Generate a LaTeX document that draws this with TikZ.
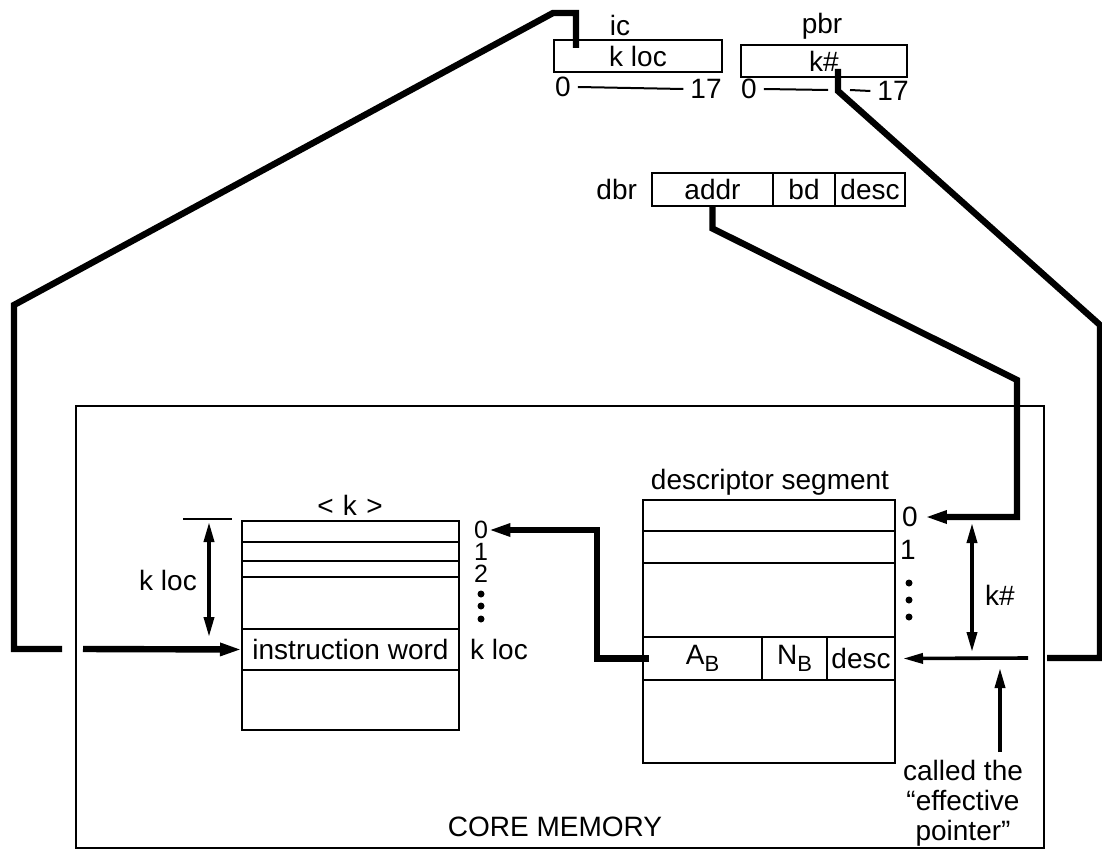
\documentclass[tikz,border=0pt]{standalone}
\usepackage{fontspec}
\setmainfont{Liberation Sans}
\usetikzlibrary{arrows.meta, positioning}
\newcommand\lowsub[1]{\raisebox{-0.5ex}{\fontsize{11}{11}\selectfont #1}}

\begin{document}
\begin{tikzpicture}[x=0.5pt,y=-0.5pt, font=\fontsize{14}{15}\selectfont,
  box/.style={draw, line width=1pt, inner sep=0pt, outer sep=0pt},
  rule/.style={line width=1pt},
  digit/.style={inner sep=0pt, font=\fontsize{12.5}{12.5}\selectfont},
  wire/.style={line width=3.2pt},
  ptr/.style={wire, -{Triangle[length=11pt,width=6pt]}},
  thinptr/.style={line width=1.8pt, -{Triangle[length=10pt,width=5pt]}},
  dim/.style={line width=1.8pt, {Triangle[length=10pt,width=5pt]}-{Triangle[length=10pt,width=5pt]}}]
\useasboundingbox (0,0) rectangle (1102,856);

\node[box, minimum width=84pt, minimum height=16pt] (icreg) at (638,56) {k loc};
\node (iclbl) at (620,25) {ic};
\node (ic0) at (563,87) {0};
\node (ic17) at (706,89) {17};
\draw[rule] (ic0.east) -- (ic17.west);

\node[box, minimum width=83pt, minimum height=16pt] (pbrreg) at (824,61) {k\#};
\node (pbrlbl) at (822,26) {pbr};
\node (pb0) at (749,89) {0};
\node (pb17) at (893,91) {17};
\coordinate (pbgap) at (838,90);
\draw[rule] (pb0.east) -- ([xshift=-5pt]pbgap);
\draw[rule] ([xshift=6pt]pbgap) -- (pb17.west);

\node[box, minimum width=60.5pt, minimum height=16.5pt, anchor=west] (addr) at (652,189) {addr};
\node[box, minimum width=31pt, minimum height=16.5pt, right=0pt of addr] (bd) {bd};
\node[box, minimum width=35pt, minimum height=16.5pt, right=0pt of bd] (dbrdesc) {desc};
\node[left=4pt of addr] (dbrlbl) {dbr};

\draw[rule] (76,406) rectangle (1044,848);
\node (corelbl) at (555,827) {CORE MEMORY};

\node (seglbl) at (350,505) {<\,\,k\,\,>};
\draw[rule] (242,521) rectangle (459,730);
\foreach \y in {542,561,577} \draw[rule] (242,\y) -- (459,\y);
\node[box, minimum width=108.5pt, minimum height=20.5pt, anchor=north west] (instr) at (242,629) {instruction word};
\node[digit] (s0) at (481,530) {0};
\node[digit] (s1) at (481,552) {1};
\node[digit] (s2) at (481,574) {2};
\foreach \y in {594,606,619} \fill (481,\y) circle (3.5);
\node (kloc2) at (499,649) {k loc};
\coordinate (kltop) at (209,522);
\coordinate (klbot) at (209,637);
\draw[rule] (183,519) -- (232,519);
\draw[dim] (kltop) -- (klbot);
\node (kloclbl) at (168,580) {k loc};

\node (dslbl) at (770,482) {descriptor segment};
\draw[rule] (643,500) rectangle (895,763);
\foreach \y in {531,563} \draw[rule] (643,\y) -- (895,\y);
\node[box, minimum width=59.5pt, minimum height=21.5pt, anchor=north west] (ab) at (643,637) {A\lowsub{B}};
\node[box, minimum width=32.5pt, minimum height=21.5pt, right=0pt of ab] (nb) {N\lowsub{B}};
\node[box, minimum width=34pt, minimum height=21.5pt, right=0pt of nb] (ddesc) {desc};
\node (d0) at (910,517) {0};
\node (d1) at (908,550) {1};
\foreach \y in {583,600,617} \fill (909,\y) circle (3.5);
\coordinate (khtop) at (972,523);
\coordinate (khbot) at (972,652);
\draw[dim] (khtop) -- (khbot);
\node (khash) at (1000,595) {k\#};

\node[align=center] (epnote) at (963,803) {called the\\``effective\\pointer''};
\coordinate (epfoot) at (1000,752);
\coordinate (eptip) at (1000,668);
\draw[thinptr] (epfoot) -- (eptip);

\coordinate (icup) at (576,13);
\coordinate (icbend) at (553,13);
\coordinate (lcorner) at (14,305);
\coordinate (lfoot) at (14,649);
\coordinate (lend) at (62,649);
\coordinate (lin) at (83,649);
\draw[wire] ([xshift=-31pt,yshift=-4pt]icreg.north) -- (icup) -- (icbend) -- (lcorner) -- (lfoot) -- (lend);
\draw[ptr] (lin) -- (instr.west);

\coordinate (dbrbend) at (1017,380);
\draw[ptr] (addr.south) -- ++(0,23) -- (dbrbend) |- (d0.east);

\draw[ptr] ([xshift=3pt]ab.west) -- ++(-26pt,0) |- (s0.east);

\coordinate (pbrbend) at (1100,325);
\coordinate (pbrfoot) at (1100,658);
\coordinate (pbrend) at (1047,658);
\coordinate (epstart) at (1028,658);
\draw[wire] ([xshift=7pt,yshift=4pt]pbrreg.south) -- ++(0,22) -- (pbrbend) -- (pbrfoot) -- (pbrend);
\draw[thinptr] (epstart) -- ([xshift=4pt]ddesc.east);
\end{tikzpicture}
\end{document}
